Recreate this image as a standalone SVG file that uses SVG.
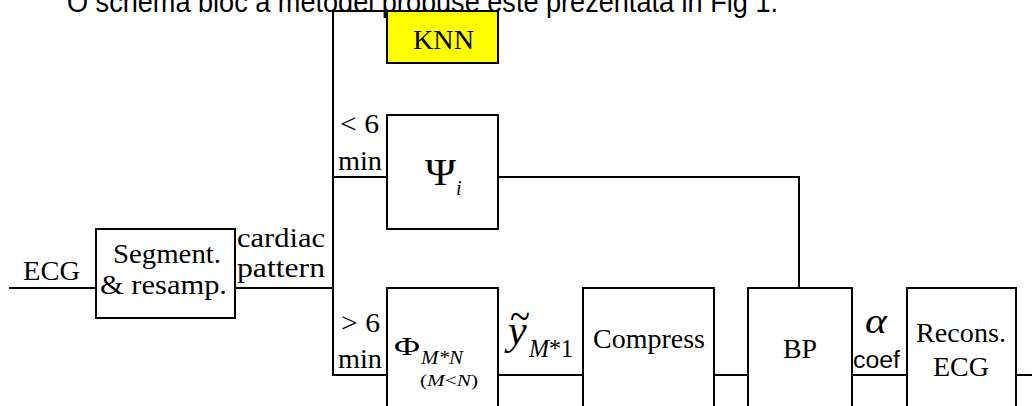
<svg xmlns="http://www.w3.org/2000/svg" width="1032" height="406" viewBox="0 0 1032 406">
<style>
.box{fill:#fff;stroke:#000;stroke-width:2}
.knn{fill:#ffff00;stroke:#000;stroke-width:2}
.ln{fill:none;stroke:#000;stroke-width:2}
.t{font-family:"Liberation Serif","Times New Roman",serif;fill:#000}
.s{font-family:"Liberation Sans",Arial,sans-serif;fill:#000}
.i{font-style:italic}
</style>
<rect width="1032" height="406" fill="#fff"/>
<text class="s" x="67" y="12" font-size="30" textLength="711" lengthAdjust="spacingAndGlyphs">O schema bloc a metodei propuse este prezentata in Fig 1.</text>
<g id="connectors">
<path class="ln" d="M9,288 H96"/>
<path class="ln" d="M235,288 H333"/>
<path class="ln" d="M387,11 H333 V375 H387"/>
<path class="ln" d="M333,177 H387"/>
<path class="ln" d="M498,177 H799 V288"/>
<path class="ln" d="M498,375 H583"/>
<path class="ln" d="M714,375 H748"/>
<path class="ln" d="M852,375 H907"/>
<path class="ln" d="M1016,375 H1032"/>
</g>
<g id="labels" font-size="28">
<text class="t" x="23" y="280" textLength="57" lengthAdjust="spacingAndGlyphs">ECG</text>
<text class="t" x="237" y="247" textLength="88" lengthAdjust="spacingAndGlyphs">cardiac</text>
<text class="t" x="237" y="277" textLength="88" lengthAdjust="spacingAndGlyphs">pattern</text>
<text class="t" x="340" y="133" textLength="39" lengthAdjust="spacingAndGlyphs">&lt; 6</text>
<text class="t" x="338" y="170" textLength="44" lengthAdjust="spacingAndGlyphs">min</text>
<text class="t" x="341" y="332" textLength="39" lengthAdjust="spacingAndGlyphs">&gt; 6</text>
<text class="t" x="338" y="368" textLength="44" lengthAdjust="spacingAndGlyphs">min</text>
<text class="t" x="510" y="331" font-size="44" textLength="20" lengthAdjust="spacingAndGlyphs">~</text>
<text class="t i" x="508" y="344" font-size="42">y</text>
<text class="t" x="529" y="357" font-size="26" textLength="44" lengthAdjust="spacingAndGlyphs"><tspan class="i">M</tspan>*1</text>
<text class="t i" x="865" y="333" font-size="36" textLength="22" lengthAdjust="spacingAndGlyphs">α</text>
<text class="s" x="853" y="368" font-size="23" textLength="47" lengthAdjust="spacingAndGlyphs">coef</text>
</g>
<g id="knn" font-size="28">
<rect class="knn" x="387" y="11" width="111" height="52"/>
<text class="t" x="413" y="49" textLength="61" lengthAdjust="spacingAndGlyphs">KNN</text>
</g>
<g id="segment" font-size="28">
<rect class="box" x="96" y="229" width="139" height="89"/>
<text class="t" x="113" y="263" textLength="108" lengthAdjust="spacingAndGlyphs">Segment.</text>
<text class="t" x="100" y="294" textLength="127" lengthAdjust="spacingAndGlyphs">&amp; resamp.</text>
</g>
<g id="psi">
<rect class="box" x="387" y="115" width="111" height="114"/>
<text class="t" x="425" y="185" font-size="38" textLength="31" lengthAdjust="spacingAndGlyphs">Ψ</text>
<text class="t i" x="456" y="195" font-size="20">i</text>
</g>
<g id="phi">
<rect class="box" x="387" y="288" width="111" height="140"/>
<text class="t" x="394" y="355" font-size="25" textLength="26" lengthAdjust="spacingAndGlyphs">Φ</text>
<text class="t i" x="421" y="364" font-size="18" textLength="42" lengthAdjust="spacingAndGlyphs">M*N</text>
<text class="t" x="420" y="386" font-size="17" textLength="58" lengthAdjust="spacingAndGlyphs">(<tspan class="i">M</tspan>&lt;<tspan class="i">N</tspan>)</text>
</g>
<g id="compress" font-size="28">
<rect class="box" x="583" y="288" width="131" height="140"/>
<text class="t" x="593" y="348" textLength="112" lengthAdjust="spacingAndGlyphs">Compress</text>
</g>
<g id="bp" font-size="28">
<rect class="box" x="748" y="288" width="104" height="140"/>
<text class="t" x="783" y="358" textLength="34" lengthAdjust="spacingAndGlyphs">BP</text>
</g>
<g id="recons" font-size="28">
<rect class="box" x="907" y="288" width="109" height="140"/>
<text class="t" x="916" y="342" textLength="90" lengthAdjust="spacingAndGlyphs">Recons.</text>
<text class="t" x="933" y="376" textLength="56" lengthAdjust="spacingAndGlyphs">ECG</text>
</g>
</svg>
